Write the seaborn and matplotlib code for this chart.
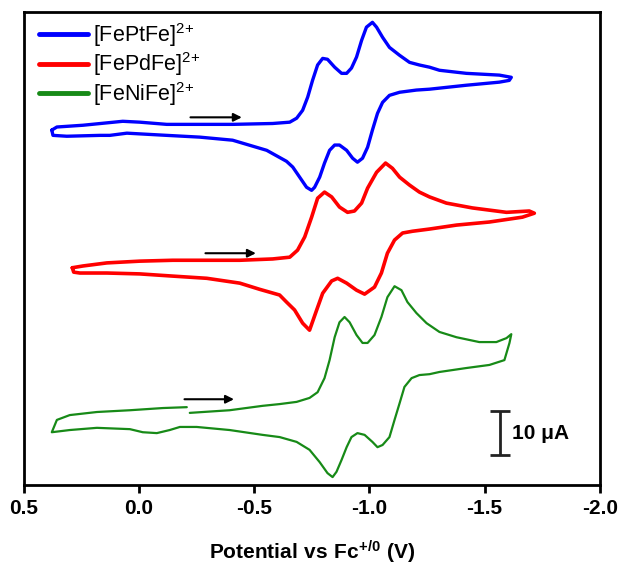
import matplotlib
matplotlib.use("Agg")
import matplotlib.pyplot as plt
import seaborn as sns

# potentials (V vs Fc+/0) and currents (uA, curves stacked with offsets)
pt_potential = [0.379, 0.357, 0.244, 0.071, -0.003, -0.120, -0.220, -0.406, -0.580, -0.654,
                -0.684, -0.710, -0.732, -0.753, -0.775, -0.797, -0.818, -0.849, -0.879, -0.901,
                -0.922, -0.944, -0.966, -0.987, -1.013, -1.031, -1.057, -1.087, -1.131, -1.174,
                -1.217, -1.261, -1.304, -1.421, -1.564, -1.616,
                -1.607, -1.564, -1.421, -1.261, -1.204, -1.131, -1.087, -1.057, -1.035, -1.013,
                -0.992, -0.970, -0.948, -0.927, -0.901, -0.870, -0.849, -0.827, -0.805, -0.784,
                -0.762, -0.749, -0.727, -0.697, -0.667, -0.640, -0.554, -0.406, -0.263, -0.120,
                0.053, 0.127, 0.170, 0.314, 0.374, 0.379]
pt_current = [80.7, 81.4, 81.8, 82.7, 82.5, 82.0, 82.0, 82.0, 82.2, 82.5,
              83.4, 85.2, 88.2, 92.0, 95.5, 97.0, 96.8, 95.0, 93.6, 93.6,
              94.8, 97.3, 101.1, 104.1, 105.2, 104.1, 101.8, 99.5, 97.7, 96.1,
              95.5, 95.0, 94.3, 93.6, 93.2, 92.7,
              92.0, 91.6, 90.9, 90.0, 89.8, 89.3, 88.6, 87.0, 84.5, 80.7,
              76.8, 74.3, 73.4, 74.3, 76.1, 77.3, 77.3, 76.1, 73.2, 70.0,
              67.7, 67.0, 67.7, 70.0, 72.3, 73.6, 76.1, 78.4, 79.1, 79.5,
              80.0, 79.5, 79.5, 79.3, 79.5, 80.7]

pd_potential = [0.290, 0.244, 0.140, -0.003, -0.146, -0.294, -0.437, -0.580, -0.654, -0.688,
                -0.719, -0.749, -0.775, -0.805, -0.836, -0.870, -0.905, -0.935, -0.966, -0.992,
                -1.031, -1.070, -1.100, -1.131, -1.174, -1.217, -1.261, -1.334, -1.447, -1.595,
                -1.694, -1.716,
                -1.664, -1.521, -1.378, -1.261, -1.187, -1.144, -1.109, -1.078, -1.052, -1.022,
                -0.979, -0.944, -0.901, -0.862, -0.836, -0.797, -0.771, -0.740, -0.710, -0.675,
                -0.640, -0.610, -0.523, -0.437, -0.294, -0.146, -0.003, 0.140, 0.257, 0.284,
                0.290]
pd_current = [49.4, 49.8, 50.5, 50.9, 51.1, 51.1, 51.1, 51.4, 51.8, 53.4,
              56.4, 60.9, 65.2, 66.6, 65.5, 63.2, 62.0, 62.3, 64.1, 67.5,
              71.1, 73.2, 72.0, 70.0, 68.2, 66.6, 65.5, 64.1, 63.0, 62.0,
              62.3, 61.8,
              60.9, 59.8, 59.1, 58.2, 57.7, 57.3, 55.7, 52.7, 48.2, 45.0,
              43.4, 44.3, 45.9, 47.0, 46.4, 43.6, 39.8, 35.2, 36.8, 39.8,
              41.6, 43.2, 44.5, 45.9, 47.0, 47.5, 48.0, 48.2, 48.2, 48.4,
              49.4]

# the Ni scan is left open where it starts/ends (just left of the arrow)
ni_potential = [-0.220, -0.393, -0.536, -0.610, -0.684, -0.740, -0.775, -0.805, -0.827, -0.849,
                -0.870, -0.892, -0.914, -0.944, -0.970, -0.992, -1.022, -1.052, -1.078, -1.109,
                -1.139, -1.165, -1.204, -1.248, -1.304, -1.378, -1.477, -1.551, -1.595, -1.616,
                -1.608, -1.586, -1.521, -1.421, -1.304, -1.261, -1.217, -1.183, -1.152, -1.131,
                -1.109, -1.087, -1.057, -1.035, -1.013, -0.979, -0.948, -0.922, -0.901, -0.879,
                -0.857, -0.840, -0.818, -0.784, -0.740, -0.684, -0.610, -0.536, -0.393, -0.250,
                -0.177, -0.133, -0.077, -0.016, 0.040, 0.183, 0.301, 0.379, 0.357, 0.301,
                0.183, 0.040, -0.103, -0.207]
ni_current = [16.4, 17.0, 18.0, 18.4, 18.9, 19.8, 21.1, 24.3, 28.4, 33.6,
              37.0, 38.2, 37.0, 34.1, 32.3, 32.3, 34.1, 38.2, 42.7, 45.2,
              44.3, 41.6, 39.1, 36.8, 34.8, 33.6, 32.5, 32.5, 33.4, 34.3,
              32.3, 28.4, 27.3, 26.6, 25.7, 25.2, 25.0, 24.3, 22.3, 18.6,
              14.8, 10.9, 9.1, 8.6, 9.8, 11.4, 11.8, 10.9, 8.6, 5.7,
              3.0, 1.8, 2.7, 5.2, 8.0, 9.8, 10.9, 11.4, 12.5, 13.2,
              13.2, 12.5, 11.8, 12.0, 12.7, 13.0, 12.5, 12.0, 14.8, 15.9,
              16.6, 17.0, 17.5, 17.7]

labels = ["[FePtFe]$^{2\\!+}$", "[FePdFe]$^{2\\!+}$", "[FeNiFe]$^{2\\!+}$"]
colors = ["#0000ff", "#ff0000", "#178a17"]

# scan direction arrows: start potential, end potential, current
arrow_start = [-0.211, -0.276, -0.185]
arrow_end = [-0.458, -0.519, -0.424]
arrow_level = [83.6, 52.7, 19.5]

xticks = [0.5, 0.0, -0.5, -1.0, -1.5, -2.0]

sns.set_theme(style="white")
plt.rcParams["font.family"] = ["Liberation Sans", "DejaVu Sans"]
plt.rcParams["mathtext.default"] = "regular"
plt.rcParams["mathtext.fontset"] = "custom"
plt.rcParams["mathtext.rm"] = "Liberation Sans"
plt.rcParams["mathtext.bf"] = "Liberation Sans:bold"
plt.rcParams["axes.unicode_minus"] = False
for key in ["text.color", "axes.labelcolor", "xtick.color", "axes.edgecolor"]:
    plt.rcParams[key] = "black"

fig = plt.figure(figsize=(6.3, 5.71), dpi=100)
ax = fig.add_axes([0.038, 0.1506, 0.914, 0.828])

curves = [(pt_potential, pt_current), (pd_potential, pd_current), (ni_potential, ni_current)]
widths = [2.4, 2.6, 1.6]
for (x, y), lab, col, lw in zip(curves, labels, colors, widths):
    sns.lineplot(x=x, y=y, sort=False, estimator=None, color=col, lw=lw, label=lab,
                 solid_joinstyle="round", ax=ax)

for x0, x1, y in zip(arrow_start, arrow_end, arrow_level):
    ax.annotate("", xy=(x1, y), xytext=(x0, y),
                arrowprops=dict(arrowstyle="-|>", color="black", lw=1.5, mutation_scale=12))

# 10 uA scale bar
ax.errorbar([-1.568], [11.8], yerr=5.0, fmt="none", ecolor="#222222", elinewidth=2,
            capsize=7, capthick=2)
ax.text(-1.618, 11.8, "10 μA", fontsize=15, fontweight="bold", va="center", ha="left")

ax.set_xlim(0.5, -2.0)
ax.set_ylim(0, 107.5)
ax.set_xticks(xticks)
ax.set_xticklabels([f"{t:.1f}" for t in xticks], fontsize=15, fontweight="bold")
ax.set_yticks([])
ax.set_ylabel("")
ax.set_xlabel(r"$\mathbf{Potential\ vs\ Fc^{+/0}\ (V)}$", fontsize=15, labelpad=15)
ax.tick_params(axis="x", direction="out", length=6, width=2, color="black", pad=4,
               bottom=True)
for s in ax.spines.values():
    s.set_color("black")
    s.set_linewidth(2)

leg = ax.legend(loc="upper left", frameon=False, fontsize=15.5, handlelength=2.25,
                handletextpad=0.25, labelspacing=0.07, borderaxespad=0.0,
                bbox_to_anchor=(0.012, 1.0))
for h in leg.get_lines():
    h.set_linewidth(3.5)

fig.savefig("out.png", dpi=100)
